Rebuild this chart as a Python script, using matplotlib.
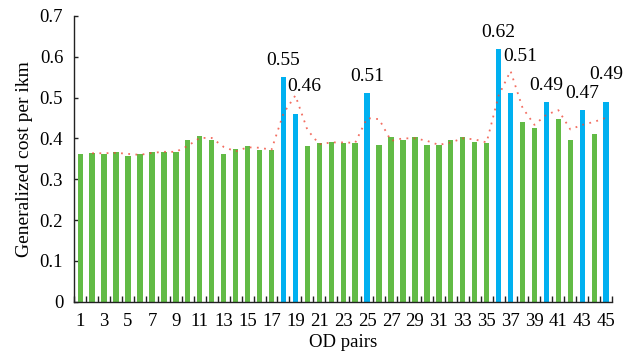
import numpy as np
import pandas as pd
import matplotlib
matplotlib.use("Agg")
import matplotlib.pyplot as plt
from matplotlib.ticker import FixedLocator

plt.rcParams['font.family'] = ['Liberation Serif', 'DejaVu Serif']

# generalized cost per ikm for each OD pair
od_pairs = list(range(1, 46))
cost = [0.362, 0.365, 0.362, 0.367, 0.357, 0.362, 0.367, 0.367, 0.367, 0.396,
        0.406, 0.396, 0.362, 0.374, 0.382, 0.372, 0.372, 0.55, 0.46, 0.382,
        0.389, 0.391, 0.389, 0.389, 0.51, 0.384, 0.404, 0.396, 0.404, 0.384,
        0.384, 0.396, 0.404, 0.391, 0.389, 0.62, 0.51, 0.44, 0.426, 0.49,
        0.448, 0.396, 0.47, 0.411, 0.49]
# OD pairs that get highlighted and labelled
highlight = [18, 19, 25, 36, 37, 40, 43, 45]
# label offsets (pixels) where the default would collide
label_shift = {19: (9, 23), 37: (10, 32), 45: (0, 23)}

green = '#62bb46'
blue = '#00b0f0'

x = np.array(od_pairs)
y = np.array(cost)
colors = [blue if p in highlight else green for p in od_pairs]

fig = plt.figure(figsize=(6.24, 3.6), dpi=100)
ax = fig.add_axes([0.119, 0.162, 0.862, 0.794])

ax.bar(x, y, width=0.45, color=colors, zorder=2)

# 2-period moving average trend
trend = pd.Series(y).rolling(2).mean()
ax.plot(x, trend, color='#f04a3a', lw=1.3, ls=(0, (1, 3)), alpha=0.8, zorder=3)

for p in highlight:
    v = cost[p - 1]
    dx, dy = label_shift.get(p, (0, 12))
    ax.annotate(f'{v:.2f}', (p, v), xytext=(dx, dy), textcoords='offset pixels',
                ha='center', va='baseline', fontsize=14, annotation_clip=False)

ax.set_xlim(0.5, 45.5)
ax.set_ylim(0, 0.7)
ax.set_yticks(np.arange(0, 0.71, 0.1))
ax.set_yticklabels(['0', '0.1', '0.2', '0.3', '0.4', '0.5', '0.6', '0.7'])
ax.set_xticks(od_pairs[::2])
ax.xaxis.set_minor_locator(FixedLocator(np.arange(0.5, 46, 1.0)))

ax.tick_params(axis='x', which='major', length=0, pad=8, labelsize=13.5)
ax.tick_params(axis='x', which='minor', direction='in', length=4, width=1, color='#222')
ax.tick_params(axis='y', direction='in', length=3, width=1, color='#222', pad=8, labelsize=13.5)

for s in ['top', 'right']:
    ax.spines[s].set_visible(False)
for s in ['left', 'bottom']:
    ax.spines[s].set_color('#222')
    ax.spines[s].set_linewidth(1)

ax.set_xlabel('OD pairs', fontsize=13.5, labelpad=3)
ax.set_ylabel('Generalized cost per ikm', fontsize=14, labelpad=5)

fig.savefig('out.png', dpi=100)
